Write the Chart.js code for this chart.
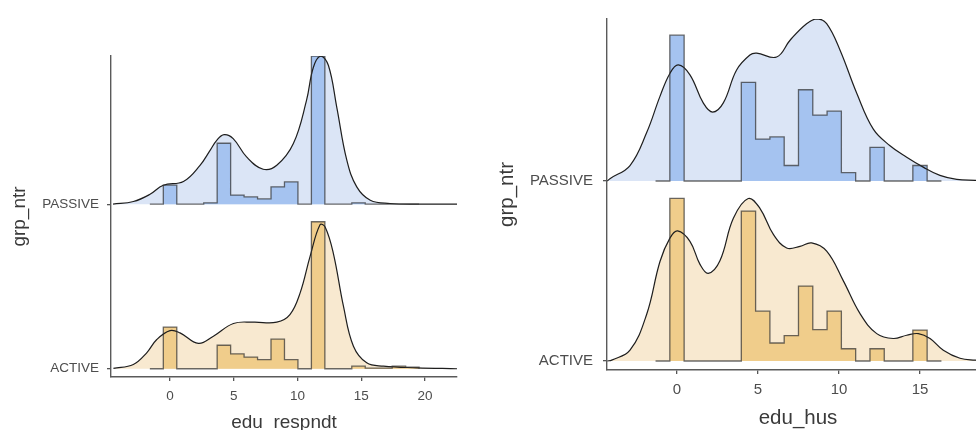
<!DOCTYPE html>
<html>
<head>
<meta charset="utf-8">
<script src="https://cdn.jsdelivr.net/npm/chart.js@4.4.1/dist/chart.umd.min.js"></script>
<style>
    html, body { margin: 0; padding: 0; background: #fff; overflow: hidden; width: 976px; height: 430px; }
    #izq { position: absolute; left: 0; top: 0; width: 470px; height: 430px; }
    #der { position: absolute; left: 490px; top: 0; width: 500px; height: 430px; }
</style>
</head>
<body>
<div id="izq"><canvas id="respChart"></canvas></div>
<div id="der"><canvas id="husChart"></canvas></div>
<script>
// Grupos (línea base 1 = ACTIVE, 2 = PASSIVE)
const grupos = ['ACTIVE', 'PASSIVE'];

// edu_respndt
const respTicks = [0, 5, 10, 15, 20];
const respAnchoBin = 19 / 18;
const respHistPassive = [0, 0.115, 0, 0, 0.008, 0.37, 0.055, 0.044, 0.032, 0.105, 0.135, 0, 0.9, 0, 0, 0.008, 0, 0, 0, 0];
const respHistActive = [0, 0.253, 0, 0, 0, 0.143, 0.091, 0.071, 0.055, 0.18, 0.055, 0, 0.893, 0, 0, 0.016, 0.004, 0.004, 0.016, 0.01];
const respDensPassiveX = [-4.47, -2.87, -1.57, -0.53, 1.05, 2.35, 3.14, 3.66, 4.24, 4.95, 6.0, 7.3, 8.37, 9.67, 10.7, 11.24, 11.82, 12.42, 13.07, 13.86, 14.64, 15.7, 17.25, 19.6, 22.5];
const respDensPassive = [0, 0.016, 0.06, 0.115, 0.138, 0.236, 0.327, 0.388, 0.422, 0.398, 0.287, 0.212, 0.236, 0.368, 0.63, 0.832, 0.899, 0.842, 0.59, 0.267, 0.105, 0.024, 0.004, 0, 0];
const respDensActiveX = [-4.44, -2.88, -1.83, -1.04, 0, 0.78, 2.22, 3.4, 4.97, 6.54, 8.37, 9.4, 10.2, 10.98, 11.76, 12.16, 12.8, 13.6, 14.38, 15.42, 16.73, 19.35, 22.5];
const respDensActive = [0.002, 0.026, 0.097, 0.178, 0.232, 0.218, 0.154, 0.198, 0.275, 0.283, 0.283, 0.329, 0.461, 0.683, 0.875, 0.861, 0.703, 0.379, 0.137, 0.036, 0.016, 0.006, 0];

// edu_hus
const husTicks = [0, 5, 10, 15];
const husAnchoBin = 15 / 17;
const husHistPassive = [0, 0.81, 0, 0, 0, 0, 0.548, 0.233, 0.245, 0.086, 0.507, 0.366, 0.388, 0.046, 0, 0.187, 0, 0, 0.086, 0];
const husHistActive = [0, 0.903, 0, 0, 0, 0, 0.833, 0.277, 0.10, 0.141, 0.416, 0.174, 0.277, 0.068, 0, 0.068, 0, 0, 0.172, 0];
const husDensPassiveX = [-4.3, -4.14, -2.9, -1.87, -1.05, -0.43, 0.08, 0.8, 1.62, 2.2, 2.86, 3.68, 4.5, 4.92, 6.15, 6.98, 8.0, 8.66, 9.24, 10.06, 11.09, 12.12, 13.15, 14.18, 15.2, 16.23, 17.27, 18.4, 19.3];
const husDensPassive = [0, 0.013, 0.086, 0.269, 0.47, 0.599, 0.645, 0.59, 0.434, 0.383, 0.434, 0.617, 0.7, 0.71, 0.689, 0.782, 0.874, 0.901, 0.874, 0.728, 0.489, 0.288, 0.196, 0.132, 0.077, 0.031, 0.009, 0.004, 0.001];
const husDensActiveX = [-4.3, -4.03, -2.9, -1.87, -1.05, -0.43, 0.04, 0.8, 1.42, 1.93, 2.65, 3.48, 4.4, 5.12, 5.95, 6.77, 7.59, 8.31, 9.24, 10.27, 11.3, 12.33, 13.35, 14.18, 14.9, 15.62, 16.44, 17.47, 18.4, 19.3];
const husDensActive = [0, 0.005, 0.06, 0.26, 0.553, 0.684, 0.723, 0.665, 0.537, 0.487, 0.557, 0.793, 0.903, 0.848, 0.703, 0.628, 0.637, 0.656, 0.61, 0.445, 0.263, 0.152, 0.125, 0.143, 0.152, 0.125, 0.06, 0.015, 0.005, 0.001];

// Colores
const azulDens = '#dbe5f6';
const azulHist = '#a5c3f0';
const naranjaDens = '#f8e9d0';
const naranjaHist = '#f0cd8b';

Chart.defaults.font.family = "'Liberation Sans', Arial, sans-serif";

// Curva de densidad sobre su línea base
const densidad = (xs, alturas, base, relleno) => ({
    data: xs.map((x, i) => ({ x: x, y: base + alturas[i] })),
    borderColor: '#1e1e1e',
    borderWidth: 1.2,
    backgroundColor: relleno,
    fill: { value: base },
    pointRadius: 0,
    tension: 0.4,
    order: 2
});

// Histograma escalonado (binline)
const histograma = (ancho, alturas, base, relleno) => {
    const puntos = alturas.map((h, i) => ({ x: (i - 1.5) * ancho, y: base + h }));
    puntos.push({ x: (alturas.length - 1.5) * ancho, y: base });
    return {
        data: puntos,
        stepped: 'before',
        borderColor: 'rgba(45, 45, 45, 0.7)',
        borderWidth: 1.3,
        backgroundColor: relleno,
        fill: { value: base },
        pointRadius: 0,
        order: 1
    };
};

const crearGrafica = (id, cfg) => new Chart(document.getElementById(id), {
    type: 'line',
    data: {
        datasets: [
            densidad(cfg.densPX, cfg.densP, 2, azulDens),
            histograma(cfg.ancho, cfg.histP, 2, azulHist),
            densidad(cfg.densAX, cfg.densA, 1, naranjaDens),
            histograma(cfg.ancho, cfg.histA, 1, naranjaHist)
        ]
    },
    options: {
        responsive: true,
        maintainAspectRatio: false,
        animation: false,
        layout: { padding: cfg.padding },
        plugins: {
            legend: { display: false },
            tooltip: { enabled: false },
            filler: { drawTime: 'beforeDatasetsDraw' }
        },
        scales: {
            x: {
                type: 'linear',
                min: cfg.xMin,
                max: cfg.xMax,
                afterBuildTicks: s => { s.ticks = cfg.ticks.map(v => ({ value: v })); },
                afterFit: s => { s.height = cfg.altoX; },
                grid: { drawOnChartArea: false, drawTicks: true, tickLength: 4, color: '#555', lineWidth: 1.3 },
                border: { color: '#5a5a5a', width: 1.4 },
                ticks: { color: '#4d4d4d', font: { size: cfg.fTick }, padding: 7, maxRotation: 0 },
                title: { display: true, text: cfg.tituloX, color: '#3a3a3a', font: { size: cfg.fTitulo }, padding: { top: 0, bottom: cfg.padTituloX } }
            },
            y: {
                type: 'linear',
                min: 0.95,
                max: 2.9,
                afterBuildTicks: s => { s.ticks = [{ value: 1 }, { value: 2 }]; },
                afterFit: s => { s.width = cfg.anchoY; },
                grid: { drawOnChartArea: false, drawTicks: true, tickLength: 4, color: '#555', lineWidth: 1.3 },
                border: { color: '#5a5a5a', width: 1.4 },
                ticks: { color: '#4d4d4d', font: { size: cfg.fTick }, padding: cfg.padTickY, callback: v => grupos[Math.round(v) - 1] },
                title: { display: true, text: 'grp_ntr', color: '#3a3a3a', font: { size: cfg.fTitulo }, padding: { top: cfg.padTituloY, bottom: 0 } }
            }
        }
    }
});

crearGrafica('respChart', {
    densPX: respDensPassiveX, densP: respDensPassive, densAX: respDensActiveX, densA: respDensActive,
    histP: respHistPassive, histA: respHistActive, ancho: respAnchoBin, ticks: respTicks,
    xMin: -4.63, xMax: 22.5, tituloX: 'edu_respndt',
    padding: { top: 56, right: 13, left: 0, bottom: 0 },
    altoX: 53, anchoY: 111, fTick: 13.5, fTitulo: 19, padTituloX: -4, padTituloY: 8, padTickY: 8
});

crearGrafica('husChart', {
    densPX: husDensPassiveX, densP: husDensPassive, densAX: husDensActiveX, densA: husDensActive,
    histP: husHistPassive, histA: husHistActive, ancho: husAnchoBin, ticks: husTicks,
    xMin: -4.32, xMax: 19.26, tituloX: 'edu_hus',
    padding: { top: 16, right: 1, left: 0, bottom: 0 },
    altoX: 60, anchoY: 117, fTick: 15, fTitulo: 20.5, padTituloX: -1, padTituloY: 5, padTickY: 10
});
</script>
</body>
</html>
